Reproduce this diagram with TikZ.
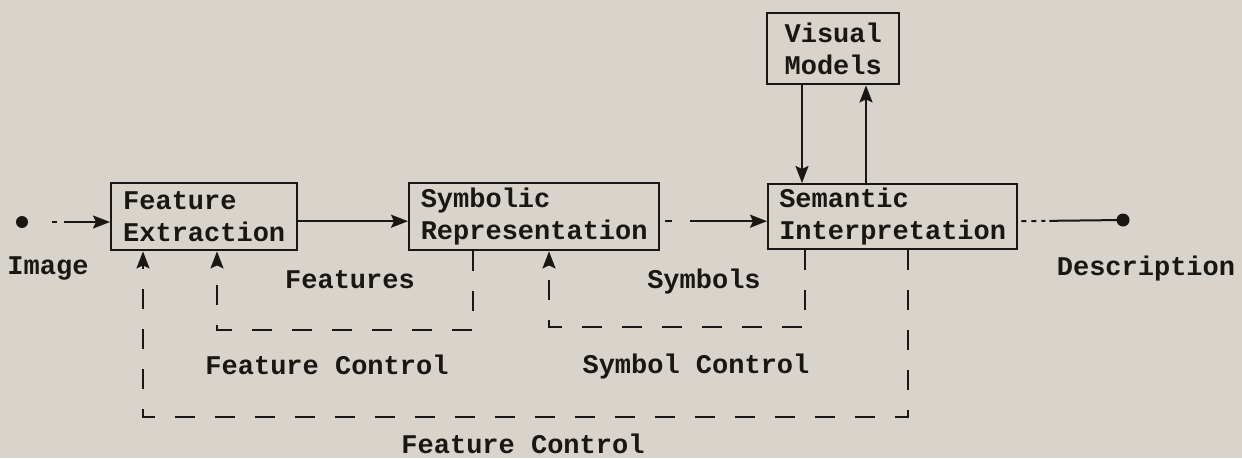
\documentclass[tikz,border=0pt]{standalone}
\usepackage{fontspec}
\setmonofont{Liberation Mono}
\usetikzlibrary{arrows.meta,calc}
\definecolor{paper}{RGB}{216,211,203}
\definecolor{ink}{RGB}{25,22,20}
\begin{document}
\begin{tikzpicture}[x=1pt,y=-1pt,
  every node/.style={font=\ttfamily\bfseries\fontsize{27}{32}\selectfont, text=ink},
  box/.style={draw=ink, line width=2.4pt, align=left, inner sep=0pt, anchor=north west},
  lbl/.style={anchor=base, inner sep=0pt},
  tip/.style={-{Stealth[length=17pt,width=13pt,inset=3pt]}},
  flow/.style={draw=ink, line width=2pt, tip},
  fb/.style={draw=ink, line width=2pt, dash pattern=on 20pt off 20pt, tip},
  ]
\fill[paper] (0,0) rectangle (1242,458);
\useasboundingbox (0,0) rectangle (1242,458);

% boxes
\node[box, minimum width=186pt, minimum height=67pt] (fe) at (110,182) {Feature\\Extraction};
\node[box, minimum width=250pt, minimum height=67pt] (sr) at (408,182) {Symbolic\\Representation};
\node[box, minimum width=249pt, minimum height=65pt] (si) at (767,183) {Semantic\\Interpretation};
\node[box, minimum width=132pt, minimum height=71pt] (vm) at (766,12) {Visual\\Models};

% terminals
\coordinate (in) at (22,222);
\coordinate (out) at (1123,220);
\fill[ink] (in) circle (6pt);
\fill[ink] (out) circle (6.5pt);

% main flow
\draw[flow, dash pattern=on 0pt off 30pt on 5pt off 7pt on 80pt] (in) -- (in -| fe.west);
\draw[flow] ([yshift=-4.5pt]fe.east) -- ([yshift=-4.5pt]sr.west);
\draw[flow, dash pattern=on 0pt off 5pt on 7pt off 18pt on 120pt] ([yshift=-4.5pt]sr.east) -- ([yshift=-4.5pt]si.west);
\draw[draw=ink, line width=2pt, dash pattern=on 0pt off 3pt on 5pt off 5pt on 5pt off 5pt on 4pt off 4pt on 120pt] ([yshift=-4.5pt]si.east) -- (out);

% visual models
\draw[flow] (vm.south -| 802,0) -- (si.north -| 802,0);
\draw[flow] (si.north -| 866,0) -- (vm.south -| 866,0);

% feedback loops
\draw[fb] (sr.south -| 473,0) -- (473,330) -- (217,330) -- (fe.south -| 217,0);
\draw[fb] (si.south -| 805,0) -- (805,327) -- (549,327) -- (sr.south -| 549,0);
\draw[fb] (si.south -| 908,0) -- (908,417) -- (143,417) -- (fe.south -| 143,0);

% labels
\node[lbl] (image) at (48,274) {Image};
\node[lbl] (desc) at (1146,275) {Description};
\node[lbl] (features) at (350,288) {Features};
\node[lbl] (symbols) at (704,288) {Symbols};
\node[lbl] (fc1) at (327,374) {Feature Control};
\node[lbl] (sc) at (696,373) {Symbol Control};
\node[lbl] (fc2) at (523,453) {Feature Control};
\end{tikzpicture}
\end{document}
